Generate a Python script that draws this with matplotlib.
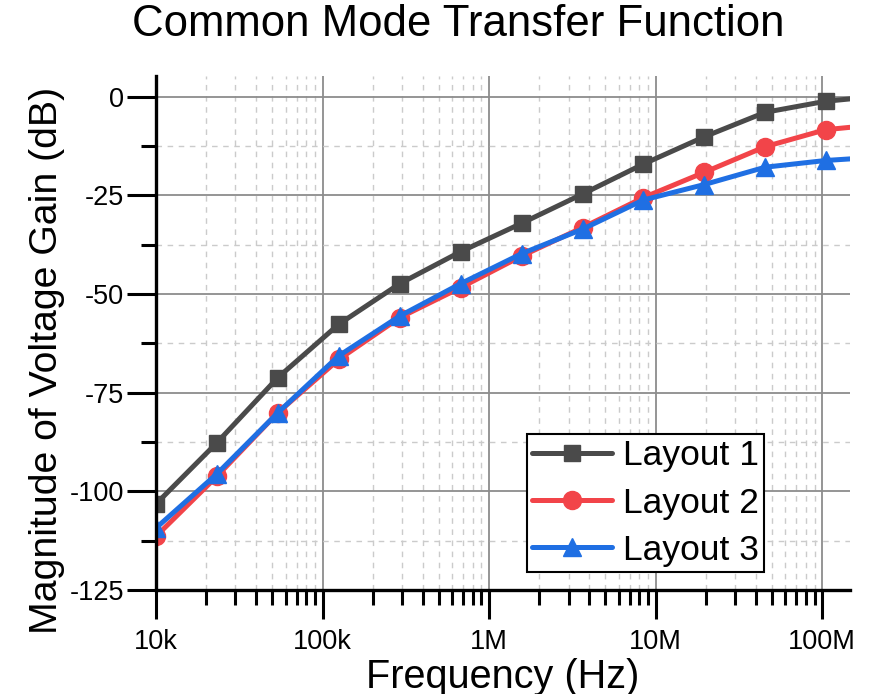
import matplotlib
matplotlib.use('Agg')
import matplotlib.pyplot as plt
from matplotlib.ticker import FixedLocator, NullFormatter

plt.rcParams['font.family'] = ['Liberation Sans', 'DejaVu Sans']

# frequency points (Hz)
freq = [1.0e4, 2.32e4, 5.39e4, 1.25e5, 2.91e5, 6.75e5,
        1.57e6, 3.64e6, 8.45e6, 1.96e7, 4.55e7, 1.05e8, 1.47e8]

layout1 = [-103.2, -87.7, -71.2, -57.7, -47.4, -39.3,
           -32.1, -24.7, -17.1, -10.2, -4.0, -1.2, -0.6]
layout2 = [-111.4, -96.2, -80.1, -66.6, -56.0, -48.4,
           -40.4, -33.2, -25.6, -19.2, -12.7, -8.4, -7.8]
layout3 = [-109.3, -95.6, -80.1, -65.7, -55.6, -47.4,
           -39.8, -33.6, -26.2, -22.3, -17.9, -16.2, -15.8]

names = ['Layout 1', 'Layout 2', 'Layout 3']
colors = ['#4a4a4a', '#f24449', '#1f6fe3']
markers = ['s', 'o', '^']
msizes = [11, 13, 13]

xticks = [1e4, 1e5, 1e6, 1e7, 1e8]
xlabels = ['10k', '100k', '1M', '10M', '100M']
yticks = [0, -25, -50, -75, -100, -125]
ylabels = ['0', '-25', '-50', '-75', '-100', '-125']

fig = plt.figure(figsize=(8.79, 6.94), dpi=100)
ax = fig.add_axes([156 / 879, 1 - 590 / 694, 694 / 879, 514 / 694])

for vals, name, c, m, ms in zip([layout1, layout2, layout3], names, colors, markers, msizes):
    ax.plot(freq, vals, color=c, lw=3.6, marker=m, ms=ms, markevery=slice(0, 12),
            label=name, solid_capstyle='round', clip_on=True)

ax.set_xscale('log')
ax.set_xlim(1e4, 1.47e8)
ax.set_ylim(-125, 5.2)

ax.set_xticks(xticks, labels=xlabels)
minor_x = [k * 10 ** d for d in range(4, 9) for k in range(2, 10)]
ax.xaxis.set_minor_locator(FixedLocator(minor_x))
ax.xaxis.set_minor_formatter(NullFormatter())
ax.set_yticks(yticks, labels=ylabels)
ax.yaxis.set_minor_locator(FixedLocator([-12.5, -37.5, -62.5, -87.5, -112.5]))

ax.tick_params(which='major', length=21, width=2.2, labelsize=19.5, pad=2, direction='out')
ax.tick_params(axis='x', which='major', pad=7)
ax.tick_params(which='minor', length=10.5, width=2.2, direction='out')

ax.grid(which='major', color='#8c8c8c', lw=1.3, ls='-')
ax.grid(which='minor', color='#cbcbcb', lw=1.0, ls=(0, (4, 4)))
ax.set_axisbelow(True)

for s in ['top', 'right']:
    ax.spines[s].set_visible(False)
for s in ['left', 'bottom']:
    ax.spines[s].set_linewidth(2.4)

ax.set_xlabel('Frequency (Hz)', fontsize=28.5, labelpad=2)
ax.set_ylabel('Magnitude of Voltage Gain (dB)', fontsize=28.3)
ax.yaxis.set_label_coords(-0.131, 0.447)
fig.text(458 / 879, 1 - 25 / 694, 'Common Mode Transfer Function', fontsize=31.5,
         ha='center', va='center')

leg = ax.legend(loc='lower right', bbox_to_anchor=(0.876, 0.035), fontsize=25.5,
                fancybox=False, framealpha=1, edgecolor='black', handlelength=2.25,
                labelspacing=0.4, borderpad=0.15, handletextpad=0.3, borderaxespad=0)
leg.get_frame().set_linewidth(1.5)

fig.savefig('out.png', dpi=100)
